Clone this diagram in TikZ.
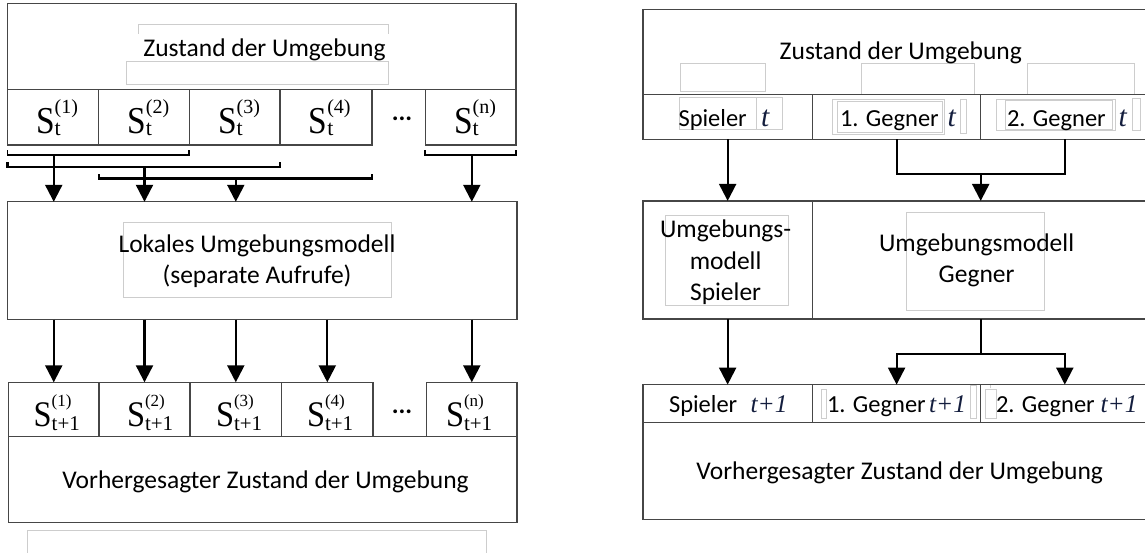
\documentclass[tikz,border=0pt]{standalone}
\usepackage{fontspec}
\usepackage{graphicx}
\setmainfont{Carlito}
\newfontfamily\tms{Liberation Serif}
\usetikzlibrary{arrows.meta,fit}
\definecolor{bord}{RGB}{70,70,70}
\definecolor{faint}{RGB}{205,205,205}
\definecolor{navy}{RGB}{20,30,62}
% #1 S size, #2 xscale, #3 sup size, #4 sup, #5 raise, #6 sub size, #7 sub, #8 lower
\newcommand{\Slab}[8]{{\tms\scalebox{#2}[1]{\fontsize{#1}{#1}\selectfont S}\rlap{\raisebox{#5}{\fontsize{#3}{#3}\selectfont #4}}\rlap{\raisebox{-#8}{\fontsize{#6}{#6}\selectfont #7}}}}
\newcommand{\St}[1]{\Slab{38}{0.88}{20}{(#1)}{20pt}{22}{t}{2pt}}
\newcommand{\Sn}[1]{\Slab{36}{0.9}{17}{(#1)}{20.4pt}{21}{t+1}{3.3pt}}
\newcommand{\tv}[1]{{\tms\itshape\color{navy}\fontsize{29.5}{29.5}\selectfont #1}}
\newcommand{\tw}[1]{{\tms\itshape\color{navy}\fontsize{25.5}{25.5}\selectfont #1}}
\begin{document}
\begin{tikzpicture}[x=1pt,y=-1pt,
  box/.style={draw=bord,line width=1.3pt,inner sep=0pt,outer sep=0pt},
  txt/.style={inner sep=0pt,outer sep=0pt,font=\fontsize{25.5}{30}\selectfont},
  ctxt/.style={inner sep=0pt,outer sep=0pt,anchor=base west,font=\fontsize{24.5}{30}\selectfont},
  lab/.style={inner sep=0pt,outer sep=0pt,anchor=base west},
  ln/.style={line width=2.2pt,black},
  brk/.style={line width=2.2pt,black},
  arr/.style={line width=2.2pt,black,-{Triangle[width=17pt,length=17pt]}},
  fnt/.style={draw=faint,line width=0.8pt}]
\useasboundingbox (0,0) rectangle (1145,552);
\fill[white] (0,0) rectangle (1145,552);

% ---------- faint artefacts (left) ----------
\draw[fnt] (138.6,33.8) -- (138.6,24.3) -- (388.8,24.3) -- (388.8,33.8);
\draw[fnt] (126.8,60.9) rectangle (388.8,84.5);
\draw[fnt] (123.4,222) rectangle (391,297.5);
\draw[fnt] (27,553) -- (27,530) -- (486.8,530) -- (486.8,553);

% ---------- left diagram ----------
\node[box,fit={(7.5,3.5) (516,89.5)}] (ltop) {};
\node[box,fit={(7.5,89.5) (98.7,145)}] (s1) {};
\node[box,fit={(98.7,89.5) (189.3,145)}] (s2) {};
\node[box,fit={(189.3,89.5) (280,145)}] (s3) {};
\node[box,fit={(280,89.5) (372,145)}] (s4) {};
\node[box,fit={(425.3,89.5) (516,145)}] (sn) {};
\node[lab] (s1l) at (36,133.3) {\St{1}};
\node[lab] (s2l) at (127.3,133.3) {\St{2}};
\node[lab] (s3l) at (218,133.3) {\St{3}};
\node[lab] (s4l) at (308.7,133.3) {\St{4}};
\node[lab] (snl) at (454,133.3) {\St{n}};
\node[txt,anchor=base] (ldots1) at (402,120) {\textbf{...}};
\node[txt,anchor=base] (ltopt) at (264.5,56.8) {Zustand der Umgebung};

\node[box,fit={(7.5,201.8) (517,319.5)}] (lmod) {};
\node[txt,anchor=base] (lmod1) at (257,252.5) {Lokales Umgebungsmodell};
\node[txt,anchor=base] (lmod2) at (257,283) {(separate Aufrufe)};

\node[box,fit={(8.5,382.3) (99,436.5)}] (n1) {};
\node[box,fit={(99,382.3) (190,436.5)}] (n2) {};
\node[box,fit={(190,382.3) (281.6,436.5)}] (n3) {};
\node[box,fit={(281.6,382.3) (373,436.5)}] (n4) {};
\node[box,fit={(426.6,382.3) (517,436.5)}] (nn) {};
\node[box,fit={(8.5,436.5) (517,522.5)}] (lbot) {};
\node[lab] (n1l) at (33.7,426.7) {\Sn{1}};
\node[lab] (n2l) at (127,426.7) {\Sn{2}};
\node[lab] (n3l) at (216,426.7) {\Sn{3}};
\node[lab] (n4l) at (307,426.7) {\Sn{4}};
\node[lab] (nnl) at (446,426.7) {\Sn{n}};
\node[txt,anchor=base] (ldots2) at (402,413) {\textbf{...}};
\node[txt,anchor=base] (lbott) at (265.5,488.5) {Vorhergesagter Zustand der Umgebung};

% brackets
\draw[brk,line width=1.7pt] (s1.south west) ++(0,5) -- ++(0,5) coordinate (b1l) -- (b1l -| s2.south east) -- ++(0,-5);
\draw[brk] (s1.south west) ++(0,17) -- ++(0,5) coordinate (b2l) -- (b2l -| s3.south east) -- ++(0,-5);
\draw[brk] (s2.south west) ++(0,29) -- ++(0,4.5) coordinate (b3l) -- (b3l -| s4.south east) -- ++(0,-4.5);
\draw[brk] (sn.south west) ++(0,5) -- ++(0,5) coordinate (bnl) -- (bnl -| sn.south east) -- ++(0,-5);
\coordinate (b1) at (b1l -| n1.north);
\coordinate (b2) at (b2l -| n2.north);
\coordinate (b3) at (b3l -| n3.north);
\coordinate (bn) at (bnl -| nn.north);
\draw[arr] (b1) -- (b1 |- lmod.north);
\draw[arr] (b2) -- (b2 |- lmod.north);
\draw[arr] (b3) -- (b3 |- lmod.north);
\draw[arr] (bn) -- (bn |- lmod.north);

\draw[arr] (lmod.south -| n1.north) -- (n1.north);
\draw[arr] (lmod.south -| n2.north) -- (n2.north);
\draw[arr] (lmod.south -| n3.north) -- (n3.north);
\draw[arr] (lmod.south -| n4.north) -- (n4.north);
\draw[arr] (lmod.south -| nn.north) -- (nn.north);

% ---------- faint artefacts (right) ----------
\draw[fnt] (680.6,63) rectangle (765,91.4);
\draw[fnt] (861.4,94) -- (861.4,63) -- (974.4,63) -- (974.4,94);
\draw[fnt] (1027,94) -- (1027,63) -- (1134.4,63) -- (1134.4,94);
\draw[fnt] (665,215) rectangle (788.4,305);
\draw[fnt] (906,212) rectangle (1044,310);
\draw[fnt] (679,97.7) rectangle (756.7,129);
\draw[fnt] (756.7,97.7) rectangle (782,129);
\draw[fnt] (832.4,99.6) rectangle (944,134.8);
\draw[fnt] (837.6,101.7) rectangle (942.4,132.4);
\draw[fnt] (960.7,99.6) rectangle (966.5,133);
\draw[fnt] (996,99) rectangle (1115,130);
\draw[fnt] (1005,100) rectangle (1112,129);
\draw[fnt] (1132,98) rectangle (1140,130);
\draw[fnt] (821.7,389) rectangle (826,418);
\draw[fnt] (970.7,385) rectangle (976.7,418);
\draw[fnt] (985,389) rectangle (996.7,418);
\draw[fnt] (990,388) -- (990,384.6) -- (1020,384.6);

% ---------- right diagram ----------
\node[box,fit={(643,9.2) (1150,94.8)}] (rtop) {};
\node[box,fit={(643,94.8) (812.3,139.2)}] (rs) {};
\node[box,fit={(812.3,94.8) (980.2,139.2)}] (rg1) {};
\node[box,fit={(980.2,94.8) (1150,139.2)}] (rg2) {};
\node[txt,anchor=base] (rtopt) at (900.8,59.7) {Zustand der Umgebung};
\node[ctxt] (rst) at (678.5,126) {Spieler};
\node[lab] (rstt) at (761,126) {\tv{t}};
\node[ctxt] (rg1t) at (840,126) {1. Gegner};
\node[lab] (rg1tt) at (947.5,126) {\tv{t}};
\node[ctxt] (rg2t) at (1007,126) {2. Gegner};
\node[lab] (rg2tt) at (1118.5,126) {\tv{t}};

\node[box,fit={(643,200.9) (812.3,319)}] (ms) {};
\node[box,fit={(812.3,200.9) (1150,319)}] (mg) {};
\node[txt,anchor=base] (ms1) at (725.6,237.8) {Umgebungs-};
\node[txt,anchor=base] (ms2) at (725.6,269) {modell};
\node[txt,anchor=base] (ms3) at (725.6,300) {Spieler};
\node[txt,anchor=base] (mg1) at (976.6,251.4) {Umgebungsmodell};
\node[txt,anchor=base] (mg2) at (976.6,282) {Gegner};

\node[box,fit={(643,384.6) (812.3,422.4)}] (hs) {};
\node[box,fit={(812.3,384.6) (980.2,422.4)}] (h1) {};
\node[box,fit={(980.2,384.6) (1150,422.4)}] (h2) {};
\node[box,fit={(643,422.4) (1150,519.3)}] (rbot) {};
\node[ctxt] (hst) at (669,412) {Spieler};
\node[lab] (hstt) at (750.5,412) {\tw{t+1}};
\node[ctxt] (h1t) at (827,412) {1. Gegner};
\node[lab] (h1tt) at (929,412) {\tw{t+1}};
\node[ctxt] (h2t) at (996,412) {2. Gegner};
\node[lab] (h2tt) at (1100.5,412) {\tw{t+1}};
\node[txt,anchor=base] (rbott) at (899.7,479.4) {Vorhergesagter Zustand der Umgebung};

% right connectors
\coordinate (jt) at (980.7,174);
\draw[ln] (rg1.south -| 896.6,0) |- (jt) -| (rg2.south -| 1064.8,0);
\draw[arr] (jt) -- (jt |- mg.north);
\draw[arr] (rs.south) -- (ms.north);
\coordinate (jb) at (980.7,353.8);
\draw[ln] (mg.south -| jb) -- (jb);
\draw[arr] (jb) -| (h1.north -| 896.6,0);
\draw[arr] (jb) -| (h2.north -| 1064.8,0);
\draw[arr] (ms.south) -- (hs.north);
\end{tikzpicture}
\end{document}
